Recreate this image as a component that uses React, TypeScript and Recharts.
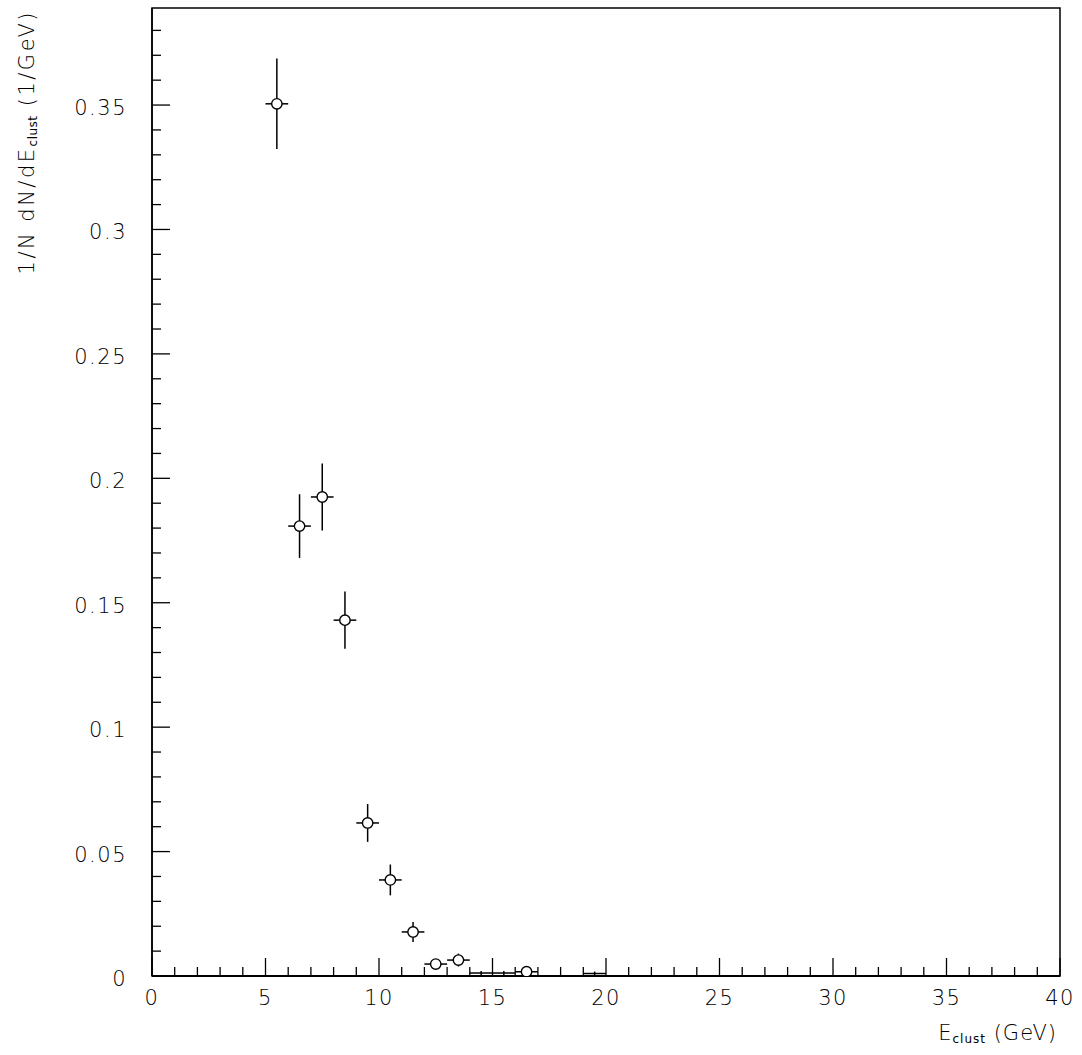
import { ScatterChart, Scatter, XAxis, YAxis, ErrorBar, ReferenceArea } from 'recharts'

// bin centres (GeV), normalised density and errors
const energy = [5.5, 6.5, 7.5, 8.5, 9.5, 10.5, 11.5, 12.5, 13.5, 14.5, 15.5, 16.5, 19.5]
const density = [0.3505, 0.1808, 0.1925, 0.143, 0.0615, 0.0386, 0.0177, 0.0048, 0.0064, 0.0012, 0.0012, 0.0017, 0.001]
const densityErr = [0.0182, 0.0128, 0.0135, 0.0115, 0.0076, 0.0062, 0.004, 0.0018, 0.0026, 0.0008, 0.0008, 0.001, 0.0008]
const energyErr = [0.5, 0.5, 0.5, 0.5, 0.5, 0.5, 0.5, 0.5, 0.5, 0.5, 0.5, 0.5, 0.5]

const xMajor = [0, 5, 10, 15, 20, 25, 30, 35, 40]
const xTicks = [0, 1, 2, 3, 4, 5, 6, 7, 8, 9, 10, 11, 12, 13, 14, 15, 16, 17, 18, 19, 20,
  21, 22, 23, 24, 25, 26, 27, 28, 29, 30, 31, 32, 33, 34, 35, 36, 37, 38, 39, 40]
const yMajor = [0, 0.05, 0.1, 0.15, 0.2, 0.25, 0.3, 0.35]
const yMajorLabels = ['0', '0.05', '0.1', '0.15', '0.2', '0.25', '0.3', '0.35']
const yTicks = [0, 0.01, 0.02, 0.03, 0.04, 0.05, 0.06, 0.07, 0.08, 0.09, 0.1, 0.11, 0.12, 0.13,
  0.14, 0.15, 0.16, 0.17, 0.18, 0.19, 0.2, 0.21, 0.22, 0.23, 0.24, 0.25, 0.26, 0.27, 0.28,
  0.29, 0.3, 0.31, 0.32, 0.33, 0.34, 0.35, 0.36, 0.37, 0.38]

const data = energy.map((e, i) => ({ e, v: density[i], ev: densityErr[i], ee: energyErr[i] }))

const FONT = '"DejaVu Sans", sans-serif'
const INK = '#000'

function XTick({ x, y, payload }: any) {
  const major = xMajor.includes(payload.value)
  return (
    <g>
      <line x1={x} x2={x} y1={y} y2={y - (major ? 18 : 9)} stroke={INK} strokeWidth={1.3} />
      {major && (
        <text x={x} y={y + 29} textAnchor="middle" fontSize={21} fontFamily={FONT} fontWeight={200}
          letterSpacing={1.5} fill={INK}>{payload.value}</text>
      )}
    </g>
  )
}

function YTick({ x, y, payload }: any) {
  const idx = yMajor.indexOf(payload.value)
  const major = idx >= 0
  return (
    <g>
      <line x1={x} x2={x + (major ? 18 : 9)} y1={y} y2={y} stroke={INK} strokeWidth={1.3} />
      {major && (
        <text x={x - 25} y={y + 10} textAnchor="end" fontSize={21} fontFamily={FONT} fontWeight={200}
          letterSpacing={1.5} fill={INK}>{yMajorLabels[idx]}</text>
      )}
    </g>
  )
}

function XTitle({ viewBox }: any) {
  const x = viewBox.x + viewBox.width - 3
  const y = viewBox.y + 64
  return (
    <text x={x} y={y} textAnchor="end" fontSize={21} fontFamily={FONT} fontWeight={200} letterSpacing={1} fill={INK}>
      E<tspan fontSize={12} dy={3} fontWeight={400}>clust</tspan><tspan dy={-3}> (GeV)</tspan>
    </text>
  )
}

function YTitle({ viewBox }: any) {
  const x = viewBox.x + 34
  const y = viewBox.y + 2
  return (
    <text x={x} y={y} transform={`rotate(-90, ${x}, ${y})`} textAnchor="end" fontSize={21}
      fontFamily={FONT} fontWeight={200} letterSpacing={2.5} fill={INK}>
      1/N dN/dE<tspan fontSize={12} dy={3} fontWeight={400} letterSpacing={0.5}>clust</tspan><tspan dy={-3}> (1/GeV)</tspan>
    </text>
  )
}

function Marker({ cx, cy, payload }: any) {
  // tiny bins sitting on the axis show only their error bars
  if (payload.v < 0.0015) return <g />
  return <circle cx={cx} cy={cy} r={5.2} fill="#fff" stroke={INK} strokeWidth={1.4} />
}

export default function App() {
  return (
    <div style={{ position: 'absolute', left: 0, top: 0, background: '#fff' }}>
      <ScatterChart width={1082} height={1055} margin={{ top: 8, right: 22, bottom: 0, left: 0 }}>
        <XAxis
          type="number" dataKey="e" domain={[0, 40]} ticks={xTicks} interval={0}
          height={79} tickSize={0} tickMargin={0} tickLine={false}
          axisLine={{ stroke: INK, strokeWidth: 2 }}
          tick={<XTick />} label={<XTitle />}
        />
        <YAxis
          type="number" dataKey="v" domain={[0, 0.389]} ticks={yTicks} interval={0}
          width={152} tickSize={0} tickMargin={0} tickLine={false} allowDataOverflow
          axisLine={{ stroke: INK, strokeWidth: 1.5 }}
          tick={<YTick />} label={<YTitle />}
        />
        <ReferenceArea x1={0} x2={40} y1={0} y2={0.389} fill="none" stroke={INK} strokeWidth={1.5}
          ifOverflow="visible" />
        <Scatter data={data} shape={<Marker />} isAnimationActive={false}>
          <ErrorBar dataKey="ev" direction="y" width={0} stroke={INK} strokeWidth={1.5} />
          <ErrorBar dataKey="ee" direction="x" width={0} stroke={INK} strokeWidth={1.5} />
        </Scatter>
      </ScatterChart>
    </div>
  )
}
